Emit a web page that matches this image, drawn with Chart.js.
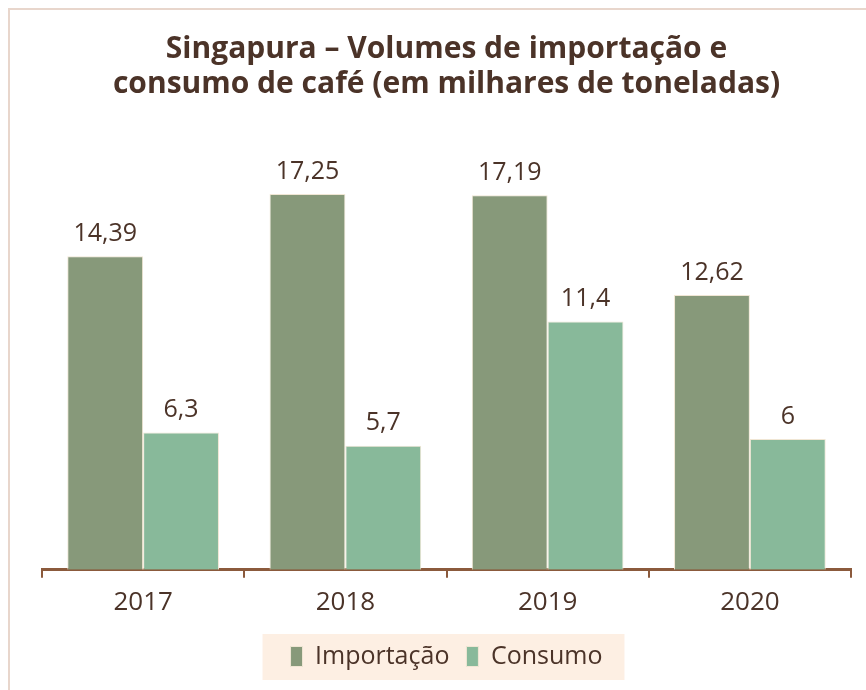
<!DOCTYPE html>
<html>
<head>
<meta charset="utf-8">
<script src="https://cdn.jsdelivr.net/npm/chart.js@4/dist/chart.umd.min.js"></script>
<style>
  body { margin: 0; background: #fff; }
  #frame { position: absolute; left: 8px; top: 8px; width: 858px; height: 682px;
           border-left: 2px solid #e8d6cc; border-top: 2px solid #e8d6cc; }
  #wrap { position: absolute; left: 0; top: 0; width: 866px; height: 690px; }
</style>
</head>
<body>
<div id="frame"></div>
<div id="wrap"><canvas id="chart1"></canvas></div>
<script>
var anos = ["2017", "2018", "2019", "2020"];
var importacao = [14.39, 17.25, 17.19, 12.62];
var consumo = [6.3, 5.7, 11.4, 6];

var marrom = "#4b3328";

// rotulos em cima das barras, com virgula decimal
var rotulos = {
  id: "rotulos",
  afterDatasetsDraw: function(chart) {
    var ctx = chart.ctx;
    ctx.save();
    ctx.font = "25px 'Open Sans'";
    ctx.fillStyle = marrom;
    ctx.textAlign = "center";
    ctx.textBaseline = "bottom";
    chart.data.datasets.forEach(function(ds, i) {
      chart.getDatasetMeta(i).data.forEach(function(el, j) {
        var txt = String(ds.data[j]).replace(".", ",");
        ctx.fillText(txt, el.x, el.y - 10);
      });
    });
    ctx.restore();
  }
};

// fundo da legenda
var fundoLegenda = {
  id: "fundoLegenda",
  beforeDraw: function(chart) {
    var lg = chart.legend;
    if (!lg || !lg.legendHitBoxes || !lg.legendHitBoxes.length) return;
    var boxes = lg.legendHitBoxes;
    var l = boxes[0].left, r = 0;
    boxes.forEach(function(b) { l = Math.min(l, b.left); r = Math.max(r, b.left + b.width); });
    var ctx = chart.ctx;
    ctx.save();
    ctx.fillStyle = "#fdefe3";
    ctx.fillRect(l - 28, 634, (r - l) + 50, 46);
    ctx.restore();
  }
};

var ctx1 = document.getElementById("chart1");
var chart1 = new Chart(ctx1, {
  type: "bar",
  data: {
    labels: anos,
    datasets: [
      {
        label: "Importação",
        data: importacao,
        backgroundColor: "#87997a",
        borderColor: "#f0e6d4",
        borderWidth: 1
      },
      {
        label: "Consumo",
        data: consumo,
        backgroundColor: "#88b99a",
        borderColor: "#f0e6d4",
        borderWidth: 1
      }
    ]
  },
  options: {
    responsive: true,
    maintainAspectRatio: false,
    animation: false,
    layout: { padding: { left: 42, right: 15, top: 32, bottom: 11 } },
    datasets: { bar: { categoryPercentage: 0.75, barPercentage: 1 } },
    plugins: {
      title: {
        display: true,
        text: ["Singapura – Volumes de importação e", "consumo de café (em milhares de toneladas)"],
        color: marrom,
        font: { family: "'Open Sans'", size: 30, weight: "bold", lineHeight: 1.17 },
        padding: { top: 0, bottom: 45 }
      },
      legend: {
        display: true,
        position: "bottom",
        labels: {
          color: marrom,
          font: { family: "'Open Sans'", size: 25 },
          boxWidth: 12,
          boxHeight: 20,
          padding: 17
        }
      },
      tooltip: { enabled: false }
    },
    scales: {
      x: {
        grid: { display: true, offset: true, drawOnChartArea: false, drawTicks: true,
                tickLength: 8, color: "#8b5a3c", lineWidth: 2 },
        border: { display: true, color: "#8b5a3c", width: 3 },
        ticks: { color: marrom, font: { family: "'Open Sans'", size: 26 }, padding: 9 }
      },
      y: {
        display: false,
        min: 0,
        max: 19.4
      }
    }
  },
  plugins: [fundoLegenda, rotulos]
});
</script>
</body>
</html>
